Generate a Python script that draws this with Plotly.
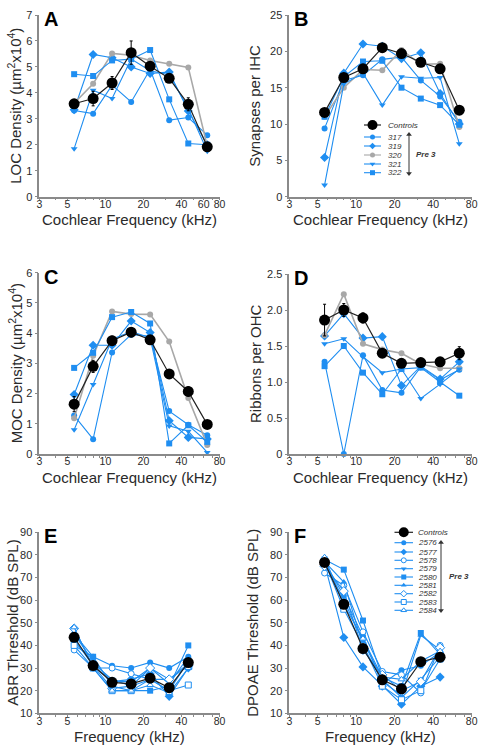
import plotly.graph_objects as go

W, H = 481, 750

# ---------------- data ----------------
freq8 = [5.66, 8.0, 11.3, 16.0, 22.6, 32.0, 45.3, 64.0]
freq7 = [5.66, 8.0, 11.3, 16.0, 22.6, 32.0, 45.3]

pre_ids = ["317", "319", "320", "321", "322"]

# Panel A: LOC density
loc_ctrl = [3.58, 3.78, 4.38, 5.55, 5.03, 4.56, 3.56, 1.92]
loc_err = [0.10, 0.28, 0.25, 0.45, 0.15, 0.12, 0.25, 0.10]
loc_317 = [3.32, 3.20, 4.30, 3.65, 4.90, 2.95, 3.05, 2.37]
loc_319 = [3.35, 5.48, 5.35, 5.00, 4.75, 4.80, 3.30, 2.00]
loc_320 = [3.60, 4.35, 5.52, 5.45, 5.25, 5.12, 4.98, 1.95]
loc_321 = [1.85, 4.10, 3.78, 5.30, 4.85, 4.70, 3.40, 1.75]
loc_322 = [4.72, 4.65, 5.25, 5.30, 5.65, 3.75, 2.05, 2.00]

# Panel B: synapses per IHC
syn_ctrl = [11.6, 16.4, 17.6, 20.5, 19.7, 18.5, 17.6, 11.9]
syn_err = [0.5, 0.5, 0.6, 0.5, 0.5, 0.5, 0.5, 0.5]
syn_317 = [9.4, 16.0, 16.7, 18.9, 19.2, 16.0, 13.8, 10.3]
syn_319 = [5.4, 17.0, 21.0, 20.7, 19.0, 19.8, 14.2, 10.0]
syn_320 = [11.0, 15.0, 17.5, 17.4, 20.2, 18.2, 18.3, 9.6]
syn_321 = [1.6, 15.5, 17.0, 12.6, 16.5, 16.3, 16.4, 7.3]
syn_322 = [11.0, 16.5, 18.6, 18.7, 15.0, 13.5, 12.6, 9.9]

# Panel C: MOC density
moc_ctrl = [1.65, 2.90, 3.75, 4.03, 3.78, 2.65, 2.07, 0.98]
moc_err = [0.25, 0.20, 0.15, 0.15, 0.10, 0.10, 0.15, 0.10]
moc_317 = [1.27, 0.49, 3.36, 3.95, 3.90, 1.42, 0.97, 0.62]
moc_319 = [1.97, 3.60, 3.60, 4.40, 4.02, 1.10, 0.55, 0.50]
moc_320 = [1.18, 3.25, 4.72, 4.63, 4.62, 3.72, 1.85, 0.30]
moc_321 = [0.80, 2.30, 3.80, 4.05, 3.85, 0.93, 0.75, 0.05]
moc_322 = [2.85, 3.35, 4.53, 4.70, 4.32, 0.35, 0.95, 0.40]

# Panel D: ribbons per OHC
rib_ctrl = [1.86, 2.00, 1.89, 1.40, 1.26, 1.27, 1.28, 1.40]
rib_err = [0.22, 0.09, 0.07, 0.04, 0.03, 0.03, 0.03, 0.09]
rib_317 = [1.28, 0.00, 1.37, 0.89, 0.85, 1.21, 1.03, 1.17]
rib_319 = [1.64, 1.95, 1.61, 1.63, 0.95, 1.22, 1.04, 1.28]
rib_320 = [1.65, 2.22, 1.53, 1.45, 1.40, 1.25, 1.19, 1.19]
rib_321 = [1.53, 1.60, 1.35, 1.13, 1.18, 0.77, 0.97, 1.18]
rib_322 = [1.22, 1.50, 1.13, 0.83, 1.18, 1.20, 1.00, 0.81]

abr_ids = ["2576", "2577", "2578", "2579", "2580", "2581", "2582", "2583", "2584"]

# Panel E: ABR threshold
abr_ctrl = [43.6, 31.1, 23.7, 23.0, 25.5, 21.3, 32.4]
abr_err = [1.2, 1.0, 1.0, 1.0, 1.0, 1.0, 1.2]
abr_2576 = [45.0, 35.0, 31.0, 30.0, 32.5, 30.0, 35.0]
abr_2577 = [43.0, 31.0, 24.0, 25.0, 27.5, 17.5, 30.0]
abr_2578 = [38.0, 30.0, 30.0, 27.5, 25.0, 25.0, 32.0]
abr_2579 = [42.0, 32.0, 25.0, 22.0, 25.0, 20.0, 33.0]
abr_2580 = [40.0, 35.0, 22.0, 20.0, 20.0, 22.0, 40.0]
abr_2581 = [45.0, 33.0, 24.0, 24.0, 30.0, 23.0, 35.0]
abr_2582 = [47.5, 31.0, 21.0, 22.0, 30.0, 25.0, 31.0]
abr_2583 = [40.0, 30.0, 20.0, 20.0, 25.0, 20.0, 22.5]
abr_2584 = [48.0, 30.0, 20.0, 20.0, 22.5, 19.0, 30.0]

# Panel F: DPOAE threshold
dp_ctrl = [76.7, 58.2, 38.6, 24.8, 20.8, 32.8, 34.8]
dp_err = [1.0, 1.2, 1.0, 1.0, 1.0, 1.0, 1.0]
dp_2576 = [77.0, 62.0, 44.0, 23.0, 29.0, 31.0, 37.0]
dp_2577 = [76.0, 43.5, 30.5, 22.0, 14.0, 22.0, 26.0]
dp_2578 = [72.0, 66.5, 46.0, 28.5, 27.0, 19.0, 40.0]
dp_2579 = [77.0, 60.0, 42.0, 25.0, 17.0, 25.0, 35.0]
dp_2580 = [78.0, 73.5, 51.0, 26.0, 22.0, 45.5, 36.0]
dp_2581 = [77.0, 68.0, 40.0, 24.0, 18.0, 44.5, 38.0]
dp_2582 = [75.0, 64.0, 38.0, 27.0, 20.0, 24.0, 39.0]
dp_2583 = [77.0, 56.0, 40.0, 22.0, 16.0, 20.0, 34.0]
dp_2584 = [79.0, 58.0, 43.0, 26.0, 25.0, 33.0, 37.5]

# ---------------- styles ----------------
BLUE = "#1f8ef1"
GRAY = "#a8a8a8"
BLACK = "#000000"
AXC = "#8a8a8a"
TXT = "#2a2a2a"
FONT = "Liberation Sans, Arial, Helvetica, sans-serif"

pre_style = {
    "317": dict(symbol="circle", color=BLUE, fill=BLUE),
    "319": dict(symbol="diamond", color=BLUE, fill=BLUE),
    "320": dict(symbol="circle", color=GRAY, fill=GRAY),
    "321": dict(symbol="triangle-down", color=BLUE, fill=BLUE),
    "322": dict(symbol="square", color=BLUE, fill=BLUE),
}
abr_style = {
    "2576": dict(symbol="circle", color=BLUE, fill=BLUE),
    "2577": dict(symbol="diamond", color=BLUE, fill=BLUE),
    "2578": dict(symbol="circle", color=BLUE, fill="white"),
    "2579": dict(symbol="triangle-down", color=BLUE, fill=BLUE),
    "2580": dict(symbol="square", color=BLUE, fill=BLUE),
    "2581": dict(symbol="triangle-up", color=BLUE, fill=BLUE),
    "2582": dict(symbol="diamond", color=BLUE, fill="white"),
    "2583": dict(symbol="square", color=BLUE, fill="white"),
    "2584": dict(symbol="triangle-up", color=BLUE, fill="white"),
}

panels = [
    dict(letter="A", freqs=freq8, ids=pre_ids, style=pre_style,
         series=[loc_317, loc_319, loc_320, loc_321, loc_322], ctrl=loc_ctrl, err=loc_err,
         box=(39.3, 219.5, 15.0, 196.7), yrange=[0, 7], ytick=list(range(0, 8)), yttext=None,
         xt=[3, 5, 10, 20, 40, 60, 80],
         ytitle="LOC Density (µm<sup>2</sup>x10<sup>4</sup>)", ytx=15,
         xtitle="Cochlear Frequency (kHz)"),
    dict(letter="B", freqs=freq8, ids=pre_ids, style=pre_style,
         series=[syn_317, syn_319, syn_320, syn_321, syn_322], ctrl=syn_ctrl, err=syn_err,
         box=(289.3, 471.7, 15.0, 196.7), yrange=[0, 25], ytick=[0, 5, 10, 15, 20, 25], yttext=None,
         xt=[3, 5, 10, 20, 40, 80],
         ytitle="Synapses per IHC", ytx=255, xtitle="Cochlear Frequency (kHz)"),
    dict(letter="C", freqs=freq8, ids=pre_ids, style=pre_style,
         series=[moc_317, moc_319, moc_320, moc_321, moc_322], ctrl=moc_ctrl, err=moc_err,
         box=(39.3, 219.5, 272.7, 454.0), yrange=[0, 6], ytick=list(range(0, 7)), yttext=None,
         xt=[3, 5, 10, 20, 40, 80],
         ytitle="MOC Density (µm<sup>2</sup>x10<sup>4</sup>)", ytx=15,
         xtitle="Cochlear Frequency (kHz)"),
    dict(letter="D", freqs=freq8, ids=pre_ids, style=pre_style,
         series=[rib_317, rib_319, rib_320, rib_321, rib_322], ctrl=rib_ctrl, err=rib_err,
         box=(289.3, 471.7, 274.0, 454.0), yrange=[0, 2.5], ytick=[0, 0.5, 1.0, 1.5, 2.0, 2.5],
         yttext=["0", "0.5", "1.0", "1.5", "2.0", "2.5"],
         xt=[3, 5, 10, 20, 40, 80],
         ytitle="Ribbons per OHC", ytx=255, xtitle="Cochlear Frequency (kHz)"),
    dict(letter="E", freqs=freq7, ids=abr_ids, style=abr_style,
         series=[abr_2576, abr_2577, abr_2578, abr_2579, abr_2580, abr_2581, abr_2582, abr_2583, abr_2584],
         ctrl=abr_ctrl, err=abr_err,
         box=(39.3, 219.5, 532.3, 713.3), yrange=[10, 90], ytick=list(range(10, 100, 10)), yttext=None,
         xt=[3, 5, 10, 20, 40, 80],
         ytitle="ABR Threshold (dB SPL)", ytx=13, xtitle="Frequency (kHz)"),
    dict(letter="F", freqs=freq7, ids=abr_ids, style=abr_style,
         series=[dp_2576, dp_2577, dp_2578, dp_2579, dp_2580, dp_2581, dp_2582, dp_2583, dp_2584],
         ctrl=dp_ctrl, err=dp_err,
         box=(289.3, 471.7, 532.3, 713.3), yrange=[10, 90], ytick=list(range(10, 100, 10)), yttext=None,
         xt=[3, 5, 10, 20, 40, 80],
         ytitle="DPOAE Threshold (dB SPL)", ytx=253, xtitle="Frequency (kHz)"),
]

minor_all = [4, 6, 7, 8, 9, 30, 50, 60, 70]

fig = go.Figure()
annotations = []
layout = dict(
    width=W, height=H, margin=dict(l=0, r=0, t=0, b=0, autoexpand=False),
    paper_bgcolor="white", plot_bgcolor="rgba(0,0,0,0)",
    showlegend=False, font=dict(family=FONT, color=TXT),
)

for i, p in enumerate(panels, start=1):
    xl, xr, yt, yb = p["box"]
    xa = "x" if i == 1 else f"x{i}"
    ya = "y" if i == 1 else f"y{i}"
    xkey = "xaxis" if i == 1 else f"xaxis{i}"
    ykey = "yaxis" if i == 1 else f"yaxis{i}"
    layout[xkey] = dict(
        domain=[xl / W, xr / W], type="log", range=[0.47712, 1.90309],
        anchor=ya, showgrid=False, zeroline=False, showline=True, automargin=False,
        linecolor=AXC, linewidth=1.5, ticks="outside", ticklen=2, tickcolor=AXC,
        tickvals=p["xt"], ticktext=[str(v) for v in p["xt"]], ticklabelstandoff=-5,
        tickfont=dict(size=10.5, color=TXT, family=FONT),
        minor=dict(tickvals=[v for v in minor_all if v not in p["xt"]],
                   ticks="outside", ticklen=2, tickcolor=AXC),
        fixedrange=True,
    )
    ydict = dict(
        domain=[1 - yb / H, 1 - yt / H], range=p["yrange"], anchor=xa, automargin=False,
        showgrid=False, zeroline=False, showline=True, linecolor=AXC, linewidth=1.5,
        ticks="outside", ticklen=3, tickcolor=AXC, tickvals=p["ytick"],
        tickfont=dict(size=11, color=TXT, family=FONT), fixedrange=True,
    )
    if p["yttext"]:
        ydict["ticktext"] = p["yttext"]
    layout[ykey] = ydict

    # animal series
    for aid, vals in zip(p["ids"], p["series"]):
        st = p["style"][aid]
        is_gray = st["color"] == GRAY
        fig.add_trace(go.Scatter(
            x=p["freqs"], y=vals, xaxis=xa, yaxis=ya, mode="lines+markers",
            name=aid, cliponaxis=False,
            line=dict(color=st["color"], width=1.6 if is_gray else 1.1),
            marker=dict(symbol=st["symbol"], size=6 if st["symbol"] != "diamond" else 7,
                        color=st["fill"], line=dict(color=st["color"], width=1 if st["fill"] == "white" else 0)),
        ))
    # controls
    fig.add_trace(go.Scatter(
        x=p["freqs"], y=p["ctrl"], xaxis=xa, yaxis=ya, mode="lines+markers",
        name="Controls", cliponaxis=False,
        line=dict(color="#222222", width=1.2),
        marker=dict(symbol="circle", size=11, color=BLACK),
        error_y=dict(type="data", array=p["err"], color=BLACK, thickness=1, width=1.5),
    ))

    # panel letter
    annotations.append(dict(
        text=f"<b>{p['letter']}</b>", x=(xl + 3) / W, y=1 - (yt - 9) / H,
        xref="paper", yref="paper", xanchor="left", yanchor="top", showarrow=False,
        font=dict(size=20, color=BLACK, family=FONT),
    ))
    # y title
    annotations.append(dict(
        text=p["ytitle"], x=p["ytx"] / W, y=1 - ((yt + yb) / 2) / H,
        xref="paper", yref="paper", xanchor="center", yanchor="middle",
        textangle=-90, showarrow=False, font=dict(size=15, color=TXT, family=FONT),
    ))
    # x title
    annotations.append(dict(
        text=p["xtitle"], x=((xl + xr) / 2) / W, y=1 - (yb + 23) / H,
        xref="paper", yref="paper", xanchor="center", yanchor="middle",
        showarrow=False, font=dict(size=15, color=TXT, family=FONT),
    ))

# ---------------- legends (overlay pixel-space axis) ----------------
layout["xaxis7"] = dict(domain=[0, 1], range=[0, W], visible=False, fixedrange=True,
                        anchor="y7", automargin=False)
layout["yaxis7"] = dict(domain=[0, 1], range=[H, 0], visible=False, fixedrange=True,
                        anchor="x7", automargin=False)


def legend_entry(x0, x1, y, color, symbol, fill, size, label, tx, lw=1.1):
    fig.add_trace(go.Scatter(x=[x0, x1], y=[y, y], xaxis="x7", yaxis="y7", mode="lines",
                             line=dict(color=color, width=lw), hoverinfo="skip", cliponaxis=False))
    fig.add_trace(go.Scatter(x=[(x0 + x1) / 2], y=[y], xaxis="x7", yaxis="y7", mode="markers",
                             marker=dict(symbol=symbol, size=size, color=fill,
                                         line=dict(color=color, width=1 if fill == "white" else 0)),
                             hoverinfo="skip", cliponaxis=False))
    annotations.append(dict(text=f"<i>{label}</i>", x=tx, y=y, xref="x7", yref="y7",
                            xanchor="left", yanchor="middle", showarrow=False,
                            font=dict(size=8, color="#333333", family=FONT)))


def double_arrow(x, y0, y1):
    fig.add_trace(go.Scatter(x=[x, x], y=[y0 + 2, y1 - 2], xaxis="x7", yaxis="y7", mode="lines",
                             line=dict(color="#333333", width=1), hoverinfo="skip", cliponaxis=False))
    fig.add_trace(go.Scatter(x=[x, x], y=[y0 + 1.5, y1 - 1.5], xaxis="x7", yaxis="y7", mode="markers",
                             marker=dict(symbol=["triangle-up", "triangle-down"], size=5, color="#333333"),
                             hoverinfo="skip", cliponaxis=False))


# Legend B
legend_entry(364, 381, 125, "#222222", "circle", BLACK, 10, "Controls", 385.5, 1.2)
ys_b = [137.0, 146.0, 155.0, 164.0, 172.7]
for aid, yy in zip(pre_ids, ys_b):
    st = pre_style[aid]
    legend_entry(364, 381, yy, st["color"], st["symbol"], st["fill"], 5, aid, 385.5)
double_arrow(409, 133, 175)
annotations.append(dict(text="<b><i>Pre 3</i></b>", x=414, y=154, xref="x7", yref="y7",
                        xanchor="left", yanchor="middle", showarrow=False,
                        font=dict(size=8, color="#333333", family=FONT)))

# Legend F
legend_entry(394.5, 413, 532.3, "#222222", "circle", BLACK, 10, "Controls", 416, 1.2)
ys_f = [542.7, 552.0, 560.3, 568.7, 577.0, 585.3, 593.7, 602.0, 610.3]
for aid, yy in zip(abr_ids, ys_f):
    st = abr_style[aid]
    legend_entry(394.5, 413, yy, st["color"], st["symbol"], st["fill"], 5, aid, 416)
double_arrow(441, 541, 612)
annotations.append(dict(text="<b><i>Pre 3</i></b>", x=447, y=576, xref="x7", yref="y7",
                        xanchor="left", yanchor="middle", showarrow=False,
                        font=dict(size=8, color="#333333", family=FONT)))

layout["annotations"] = annotations
fig.update_layout(**layout)
fig.write_html("out.html", config={"displayModeBar": False},
               post_script="document.body.style.margin='0px';")
